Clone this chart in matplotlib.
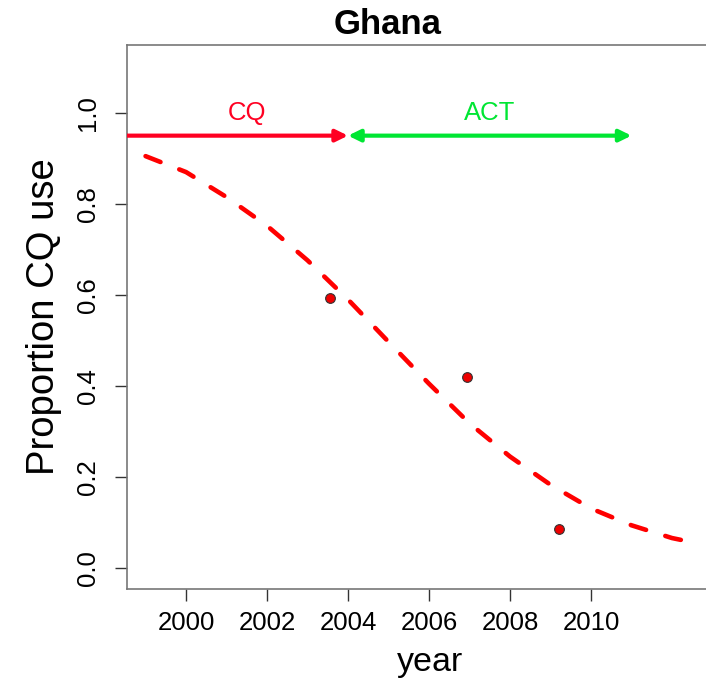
import numpy as np
import matplotlib
matplotlib.use('Agg')
import matplotlib.pyplot as plt
from matplotlib.patches import FancyArrowPatch

plt.rcParams['font.family'] = ['Liberation Sans', 'DejaVu Sans']

# Observed proportion of CQ use (survey points)
obs_year = [2003.55, 2006.93, 2009.2]
obs_prop = [0.593, 0.420, 0.086]

# Fitted curve
fit_year = [1999, 2000, 2001, 2002, 2003, 2004, 2005, 2006, 2007, 2008,
            2009, 2010, 2011, 2012, 2012.6]
fit_prop = [0.905, 0.870, 0.815, 0.752, 0.676, 0.590, 0.497, 0.405, 0.318,
            0.245, 0.183, 0.131, 0.094, 0.066, 0.055]

# Drug policy periods
period_names = ['CQ', 'ACT']
period_start = [1998.0, 2004.0]
period_end = [2004.0, 2011.0]
period_level = 0.95
red = '#ff0022'
green = '#00e633'

fig = plt.figure(figsize=(7.06, 6.87), dpi=100)
ax = fig.add_axes([0.1799, 0.1426, 0.858, 0.7918])

ax.plot(fit_year, fit_prop, color='#ff0000', linewidth=3.3,
        dashes=(3.5, 4.4), dash_capstyle='round', zorder=2)
ax.plot(obs_year, obs_prop, 'o', color='#ee0000', markersize=7,
        markeredgecolor='#333333', markeredgewidth=0.8, zorder=3)

# CQ period arrow (head at the switch), ACT period double arrow
head = '-|>,head_length=0.65,head_width=0.32'
a1 = FancyArrowPatch((period_start[0], period_level), (period_end[0], period_level),
                     arrowstyle=head, mutation_scale=11, color=red,
                     linewidth=3, shrinkA=0, shrinkB=0, zorder=4)
a2 = FancyArrowPatch((period_start[1], period_level), (period_end[1], period_level),
                     arrowstyle='<|-|>,head_length=0.65,head_width=0.32',
                     mutation_scale=11, color=green, linewidth=3,
                     shrinkA=0, shrinkB=0, zorder=4)
ax.add_patch(a1)
ax.add_patch(a2)
ax.text(2001.5, 1.0, period_names[0], color=red, fontsize=18.5,
        ha='center', va='center')
ax.text(2007.5, 1.0, period_names[1], color=green, fontsize=18.5,
        ha='center', va='center')

ax.set_xlim(1998.542, 2013.5)
ax.set_ylim(-0.046, 1.149)
ax.set_xticks([2000, 2002, 2004, 2006, 2008, 2010])
ax.set_yticks([0.0, 0.2, 0.4, 0.6, 0.8, 1.0])
ax.set_yticklabels(['0.0', '0.2', '0.4', '0.6', '0.8', '1.0'],
                   rotation=90, va='center')

ax.tick_params(axis='both', which='major', labelsize=18.5, length=8.5,
               width=1, color='#333333', direction='out')
ax.tick_params(axis='x', pad=7)
ax.tick_params(axis='y', pad=11)
for s in ax.spines.values():
    s.set_color('#777777')
    s.set_linewidth(1.2)

ax.set_xlabel('year', fontsize=24.5, labelpad=9)
ax.set_ylabel('Proportion CQ use', fontsize=27.5, labelpad=10)
fig.text(388 / 706, 1 - 25 / 687, 'Ghana', fontsize=25, fontweight='bold',
         ha='center', va='center')

fig.savefig('out.png', dpi=100)
